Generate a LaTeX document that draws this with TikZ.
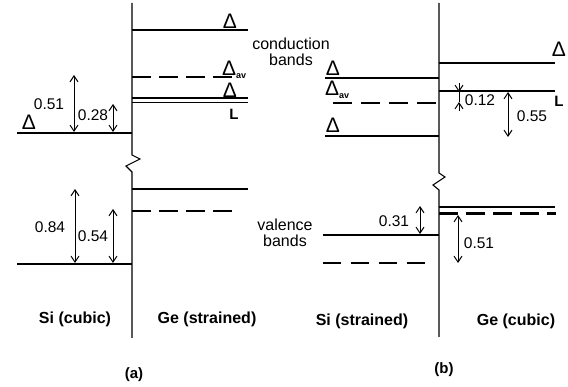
\documentclass[tikz,border=0pt]{standalone}
\usepackage{fontspec}
\setmainfont{Liberation Sans}
\usetikzlibrary{arrows.meta}
\begin{document}
\begin{tikzpicture}[x=1pt,y=-1pt,
 level/.style={line width=2.2pt},
 dlevel/.style={line width=2.2pt, dash pattern=on 19pt off 8pt},
 axisline/.style={line width=1.1pt, line join=miter},
 gap/.style={line width=1pt, {Straight Barb[length=6pt,width=8pt]}-{Straight Barb[length=6pt,width=8pt]}},
 half/.style={line width=1pt, -{Straight Barb[length=6pt,width=8pt]}},
 num/.style={inner sep=0pt, font=\fontsize{15.5}{18}\selectfont},
 bnd/.style={inner sep=0pt, align=center, font=\fontsize{16}{18}\selectfont},
 dlt/.style={inner sep=0pt, font=\fontsize{21}{23}\selectfont},
 mat/.style={inner sep=0pt, font=\fontsize{16}{19}\selectfont\bfseries},
 lbl/.style={inner sep=0pt, font=\fontsize{15}{17}\selectfont\bfseries},
]
\useasboundingbox (0,0) rectangle (568,387);

% ---------------- panel (a) ----------------
\draw[axisline] (132,3) -- (132,155) -- (140,159) -- (126,166) -- (132,172) -- (132,338);
% conduction levels
\coordinate (aGeD1) at (132,30);   \coordinate (aGeD1e) at (248,30);
\coordinate (aGeAv) at (132,77);   \coordinate (aGeAve) at (238,77);
\coordinate (aGeD2) at (132,98.3); \coordinate (aGeD2e) at (248,98.3);
\coordinate (aGeL)  at (132,102.5);\coordinate (aGeLe)  at (248,102.5);
\coordinate (aSiD)  at (17,133);   \coordinate (aSiDe)  at (132,133);
\draw[level] (aGeD1) -- (aGeD1e);
\draw[dlevel] (aGeAv) -- (aGeAve);
\draw[line width=1.9pt] (aGeD2) -- (aGeD2e);
\draw[line width=1.9pt] (aGeL) -- (aGeLe);
\draw[level] (aSiD) -- (aSiDe);
% valence levels
\coordinate (aGeV)  at (132,189);  \coordinate (aGeVe)  at (248,189);
\coordinate (aGeVd) at (132,211);  \coordinate (aGeVde) at (238,211);
\coordinate (aSiV)  at (17,264);   \coordinate (aSiVe)  at (132,264);
\draw[level] (aGeV) -- (aGeVe);
\draw[dlevel] (aGeVd) -- (aGeVde);
\draw[level] (aSiV) -- (aSiVe);
% gaps
\coordinate (g1a) at (74,132);  \coordinate (g1b) at (74,75);
\coordinate (g2a) at (113,132); \coordinate (g2b) at (113,104);
\coordinate (g3a) at (75,263);  \coordinate (g3b) at (75,189);
\coordinate (g4a) at (113,263); \coordinate (g4b) at (113,209);
\draw[gap] (g1a) -- (g1b);
\draw[gap] (g2a) -- (g2b);
\draw[gap] (g3a) -- (g3b);
\draw[gap] (g4a) -- (g4b);
% labels
\node[dlt] (laD1) at (230,21) {Δ};
\node[dlt, anchor=west] (laAv) at (222,70) {Δ\raisebox{-3pt}{\fontsize{9}{9}\selectfont\bfseries av}};
\node[dlt] (laD2) at (230,90) {Δ};
\node[lbl] (laL) at (234,114) {L};
\node[dlt] (laSiD) at (29,122) {Δ};
\node[num] (n051) at (49,104) {0.51};
\node[num] (n028) at (93,115) {0.28};
\node[num] (n084) at (50,227) {0.84};
\node[num] (n054) at (93,236) {0.54};
\node[mat] (siA) at (75,319) {Si (cubic)};
\node[mat] (geA) at (207,319) {Ge (strained)};
\node[lbl] (capA) at (134,375) {(a)};

% band labels
\node[bnd] (cb) at (291,52) {conduction\\[-2pt]bands};
\node[bnd] (vb) at (285,233) {valence\\[-2pt]bands};

% ---------------- panel (b) ----------------
\draw[axisline] (439,3) -- (439,173) -- (445,177) -- (433,185) -- (439,190) -- (439,337);
\coordinate (bSiD1) at (325,78);  \coordinate (bSiD1e) at (439,78);
\coordinate (bSiAv) at (333,103); \coordinate (bSiAve) at (439,103);
\coordinate (bSiD2) at (325,136); \coordinate (bSiD2e) at (439,136);
\coordinate (bGeD)  at (439,63);  \coordinate (bGeDe)  at (555,63);
\coordinate (bGeL)  at (439,91);  \coordinate (bGeLe)  at (555,91);
\draw[level] (bSiD1) -- (bSiD1e);
\draw[dlevel, dash pattern=on 19pt off 9pt] (bSiAv) -- (bSiAve);
\draw[level] (bSiD2) -- (bSiD2e);
\draw[level] (bGeD) -- (bGeDe);
\draw[level] (bGeL) -- (bGeLe);
\coordinate (bSiV)  at (323,235); \coordinate (bSiVe)  at (439,235);
\coordinate (bSiVd) at (323,263); \coordinate (bSiVde) at (430,263);
\coordinate (bGeV)  at (439,207); \coordinate (bGeVe)  at (555,207);
\coordinate (bGeVd) at (439,213.5); \coordinate (bGeVde) at (556,213.5);
\draw[level] (bSiV) -- (bSiVe);
\draw[dlevel, dash pattern=on 18pt off 10pt] (bSiVd) -- (bSiVde);
\draw[level] (bGeV) -- (bGeVe);
\draw[dlevel, dash pattern=on 19pt off 8pt] (bGeVd) -- (bGeVde);
% gaps
\coordinate (h1a) at (459,83);  \coordinate (h1b) at (459,92);
\coordinate (h2a) at (459,111); \coordinate (h2b) at (459,102);
\draw[half] (h1a) -- (h1b);
\draw[half] (h2a) -- (h2b);
\draw[line width=0.5pt] (h1b) -- (h2b);
\coordinate (h3a) at (508,92);  \coordinate (h3b) at (508,137);
\coordinate (h4a) at (420,206); \coordinate (h4b) at (420,234);
\coordinate (h5a) at (458,215); \coordinate (h5b) at (458,263);
\draw[gap] (h3a) -- (h3b);
\draw[gap] (h4a) -- (h4b);
\draw[gap] (h5a) -- (h5b);
% labels
\node[dlt] (lbD1) at (333,68) {Δ};
\node[dlt, anchor=west] (lbAv) at (325,90) {Δ\raisebox{-3pt}{\fontsize{9}{9}\selectfont\bfseries av}};
\node[dlt] (lbD2) at (333,125) {Δ};
\node[dlt] (lbGeD) at (559,49) {Δ};
\node[lbl] (lbL) at (559,101) {L};
\node[num] (n012) at (480,100) {0.12};
\node[num] (n055) at (532,116) {0.55};
\node[num] (n031) at (394,221) {0.31};
\node[num] (n051b) at (479,243) {0.51};
\node[mat] (siB) at (362,321) {Si (strained)};
\node[mat] (geB) at (516,321) {Ge (cubic)};
\node[lbl] (capB) at (444,370) {(b)};
\end{tikzpicture}
\end{document}
